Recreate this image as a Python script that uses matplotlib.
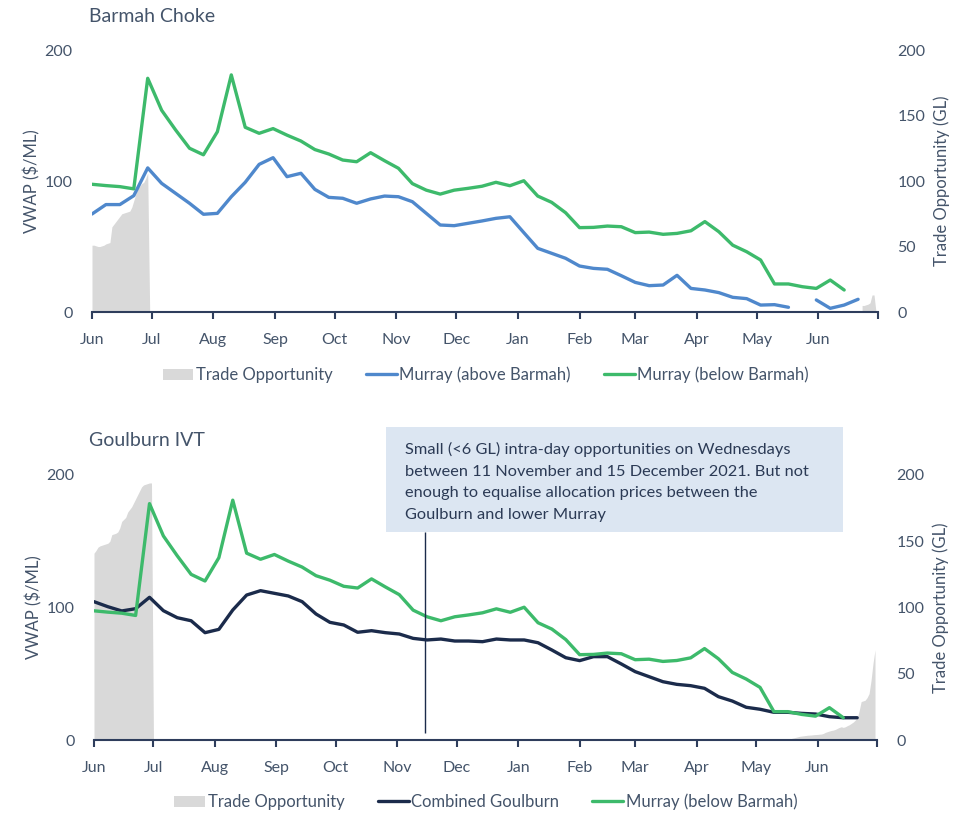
import matplotlib
matplotlib.use('Agg')
import matplotlib.pyplot as plt
from matplotlib.patches import Rectangle
import numpy as np
import pandas as pd

plt.rcParams['font.family'] = ['Lato', 'DejaVu Sans']

nan = np.nan

# weekly VWAP ($/ML)
weeks = pd.date_range('2021-06-01', periods=56, freq='7D')
murray_above = [74.8, 82, 82, 88.8, 110, 98.2, 90.6, 83, 74.6, 75.3,
                88, 99, 112.7, 117.8, 103.3, 105.9, 93.6, 87.5, 86.8, 83,
                86.3, 88.5, 88, 84.2, 75.3, 66.4, 65.9, 67.7, 69.5, 71.5,
                72.7, 60.6, 48.6, 44.8, 41, 35.1, 33.3, 32.6, 27.7, 22.6,
                20.1, 20.6, 28, 18, 16.8, 14.8, 11.2, 10.2, 5.3, 5.6,
                3.6, nan, 9.2, 2.8, 5.3, 9.7]
murray_below = [97.5, 96.5, 95.7, 94, 178.4, 154, 139, 125, 120, 137.6,
                181, 141, 136.4, 140, 135, 130.5, 124, 120.6, 116, 114.7,
                121.6, 115.5, 109.7, 98, 93, 90, 93, 94.4, 96, 99,
                96.4, 100.2, 88.5, 83.7, 75.8, 64.4, 64.6, 65.6, 65.1, 60.6,
                61, 59.3, 60, 62, 69, 61.3, 51, 46, 39.7, 21.4,
                21.4, 19.3, 18, 24.4, 16.8, nan]
combined_goulburn = [104.4, 100.6, 97.4, 99.1, 107.7, 97.6, 92.3, 90, 81, 83.5,
                     98.1, 109.4, 112.7, 110.7, 108.7, 104.4, 95.1, 88.8, 86.8, 81.3,
                     82.5, 81, 80, 76.7, 75.5, 76.2, 74.7, 74.7, 74.2, 76.2,
                     75.5, 75.5, 73.4, 67.9, 62.1, 59.9, 62.9, 62.9, 57.4, 51.6,
                     47.8, 44, 42, 41, 39, 32.7, 29.4, 24.7, 23.2, 20.9,
                     20.9, 20.1, 19.6, 17.6, 16.8, 16.8]

# daily trade opportunity (GL)
barmah_opp_2021 = [51, 51, 50.5, 50, 50, 50.5, 51, 52, 52.5, 53,
                   65, 67, 69, 71, 73, 75, 75.5, 76, 76.5, 77,
                   80, 85, 90, 94, 96, 98, 99, 102, 106, 0]
barmah_opp_2022 = [5, 5, 5.5, 6, 7, 13, 13, 0]
goulburn_opp_2021 = [141, 143, 145.5, 146.5, 147, 147.5, 148, 148.5, 150, 155,
                     155.5, 156, 157, 160, 165, 166.5, 168, 172, 174, 176,
                     179, 182, 185, 188, 191, 192.5, 193, 193.5, 194, 194, 0]
goulburn_opp_2022 = [1.3, 1.6, 2, 2.4, 2.8, 3, 3.2, 3.4, 3.6, 3.7,
                     3.8, 4, 4.1, 4.2, 4.4, 4.5, 5, 5.8, 6.3, 6.8,
                     7.2, 7.5, 8, 8.8, 9.5, 10, 9.5, 10, 10.8, 11.5,
                     12.5, 13.5, 15, 16.5, 22, 29, 29.5, 30, 32, 35,
                     45, 58, 68]

note_date = pd.Timestamp('2021-11-15')
note = ("Small (<6 GL) intra-day opportunities on Wednesdays\n"
        "between 11 November and 15 December 2021. But not\n"
        "enough to equalise allocation prices between the\n"
        "Goulburn and lower Murray")

text_col = '#44546a'
axis_col = '#2e3d5c'
blue = '#4f88cc'
green = '#3dba6b'
navy = '#1b2b4b'
gray = '#d9d9d9'

W, H = 962, 814
fig = plt.figure(figsize=(W / 100, H / 100), dpi=100)

months = pd.date_range('2021-06-01', '2022-07-01', freq='MS')
month_labels = [m.strftime('%b') for m in months[:-1]] + ['']


def px_rect(x0, y0, x1, y1):
    return [x0 / W, 1 - y1 / H, (x1 - x0) / W, (y1 - y0) / H]


def panel(rect, title, title_y, opp, lines, leg_y):
    ax = fig.add_axes(rect)
    ax2 = ax.twinx()
    h_opp = None
    for start, vals in opp:
        d = pd.date_range(start, periods=len(vals), freq='D')
        h_opp = ax2.fill_between(d, 0, vals, color=gray, lw=0, label='Trade Opportunity')
    handles = [h_opp]
    for lab, vals, c in lines:
        h, = ax.plot(weeks, vals, color=c, lw=2.4, label=lab, solid_capstyle='round')
        handles.append(h)
    ax.set_zorder(ax2.get_zorder() + 1)
    ax.patch.set_visible(False)

    ax.set_xlim(months[0], months[-1])
    ax.set_ylim(0, 200)
    ax2.set_ylim(0, 200)
    ax.set_xticks(months)
    ax.set_xticklabels(month_labels)
    ax.set_yticks([0, 100, 200])
    ax2.set_yticks([0, 50, 100, 150, 200])
    for a in (ax, ax2):
        for s in ('top', 'left', 'right'):
            a.spines[s].set_visible(False)
    ax2.spines['bottom'].set_visible(False)
    ax.spines['bottom'].set_color(axis_col)
    ax.spines['bottom'].set_linewidth(1.5)
    ax.tick_params(axis='x', length=5, width=1.5, color=axis_col, pad=10,
                   labelsize=11.5, labelcolor=text_col)
    ax.tick_params(axis='y', length=0, pad=14, labelsize=11.5, labelcolor=text_col)
    ax2.tick_params(axis='y', length=0, pad=14, labelsize=11.5, labelcolor=text_col)

    ax.set_ylabel('VWAP ($/ML)', fontsize=12, color=text_col)
    ax.yaxis.set_label_coords(-0.066, 0.5)
    ax2.set_ylabel('Trade Opportunity (GL)', fontsize=12, color=text_col)
    ax2.yaxis.set_label_coords(1.071, 0.5)

    fig.text(89 / W, 1 - title_y / H, title, fontsize=14, color=text_col,
             ha='left', va='center')
    fig.legend(handles=handles, loc='center', bbox_to_anchor=(0.505, 1 - leg_y / H),
               ncol=3, frameon=False, fontsize=12, handlelength=1.85,
               handletextpad=0.15, columnspacing=2.0, labelcolor=text_col)
    return ax


ax_top = panel(px_rect(92, 50, 878, 312), 'Barmah Choke', 17,
               [('2021-06-01', barmah_opp_2021), ('2022-06-23', barmah_opp_2022)],
               [('Murray (above Barmah)', murray_above, blue),
                ('Murray (below Barmah)', murray_below, green)], 375)

ax_bot = panel(px_rect(94, 475, 877, 740), 'Goulburn IVT', 440,
               [('2021-06-01', goulburn_opp_2021), ('2022-05-19', goulburn_opp_2022)],
               [('Combined Goulburn', combined_goulburn, navy),
                ('Murray (below Barmah)', murray_below, green)], 802)

# note box with leader line
fig.add_artist(Rectangle((386 / W, 1 - 532 / H), 457 / W, 105 / H,
                         transform=fig.transFigure, facecolor='#dce6f2',
                         edgecolor='none'))
fig.text(405 / W, 1 - 442 / H, note, fontsize=11.8, color='#2b3a55',
         ha='left', va='top', linespacing=1.68)
ax_bot.vlines(note_date, 5, 157, color=navy, lw=1, clip_on=False)

fig.savefig('out.png', dpi=100)
